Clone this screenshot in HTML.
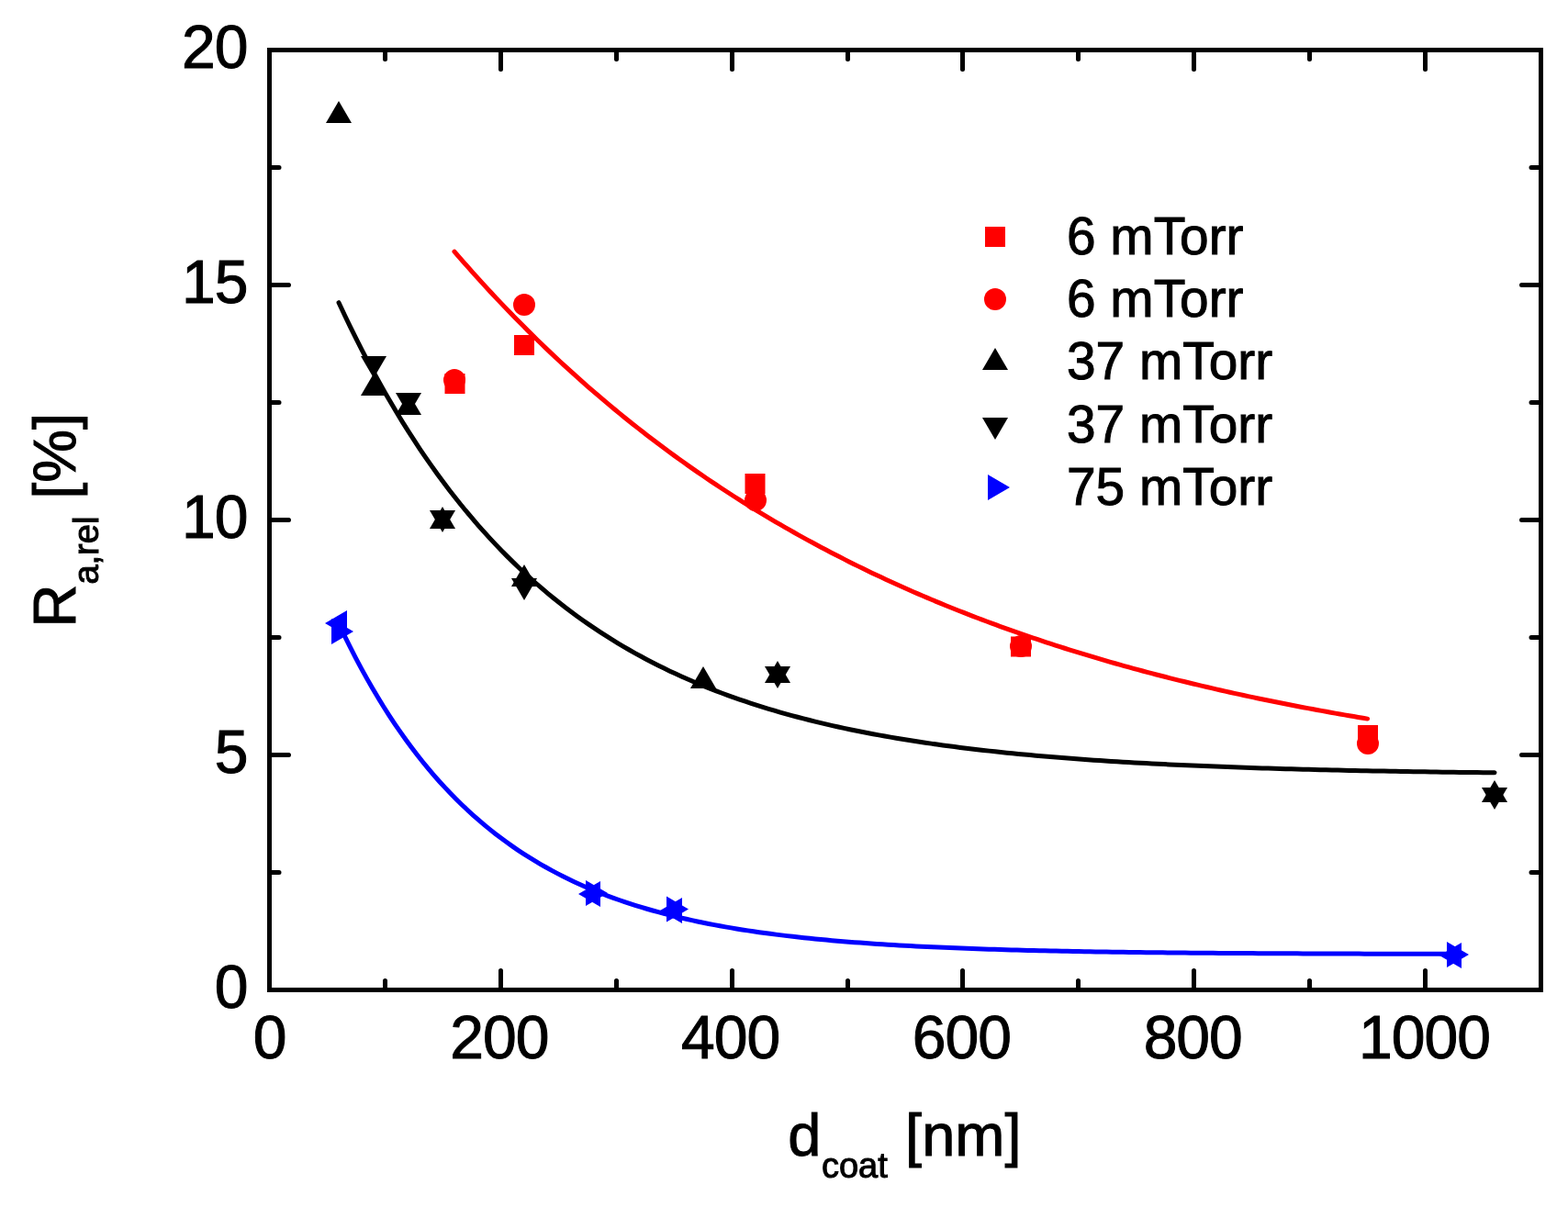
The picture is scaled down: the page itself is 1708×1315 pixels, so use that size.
<!DOCTYPE html>
<html><head><meta charset="utf-8"><title>Plot</title><style>
html,body{margin:0;padding:0;background:#fff;overflow:hidden;}
svg{display:block;}
text{font-family:"Liberation Sans",Arial,sans-serif;fill:#000;}
</style></head><body>
<svg width="1708" height="1315" viewBox="0 0 1708 1315">
<rect width="1708" height="1315" fill="#fff"/>
<g fill="none" stroke-width="5" stroke-linejoin="round" stroke-linecap="round">
<polyline stroke="#ff0000" points="494.94,274.03 499.94,279.82 504.94,285.54 509.93,291.22 514.93,296.83 519.93,302.39 524.93,307.90 529.93,313.35 534.92,318.76 539.92,324.10 544.92,329.40 549.92,334.64 554.92,339.84 559.91,344.98 564.91,350.07 569.91,355.11 574.91,360.11 579.91,365.05 584.90,369.95 589.90,374.80 594.90,379.60 599.90,384.36 604.90,389.07 609.89,393.73 614.89,398.35 619.89,402.92 624.89,407.45 629.89,411.93 634.89,416.37 639.88,420.77 644.88,425.12 649.88,429.43 654.88,433.70 659.88,437.93 664.87,442.12 669.87,446.27 674.87,450.37 679.87,454.44 684.87,458.46 689.86,462.45 694.86,466.40 699.86,470.31 704.86,474.18 709.86,478.01 714.85,481.81 719.85,485.57 724.85,489.29 729.85,492.98 734.85,496.63 739.84,500.25 744.84,503.83 749.84,507.37 754.84,510.88 759.84,514.36 764.83,517.80 769.83,521.21 774.83,524.58 779.83,527.93 784.83,531.24 789.82,534.52 794.82,537.76 799.82,540.98 804.82,544.16 809.82,547.31 814.81,550.43 819.81,553.52 824.81,556.58 829.81,559.62 834.81,562.62 839.80,565.59 844.80,568.53 849.80,571.45 854.80,574.33 859.80,577.19 864.79,580.02 869.79,582.83 874.79,585.60 879.79,588.35 884.79,591.07 889.79,593.77 894.78,596.43 899.78,599.08 904.78,601.69 909.78,604.29 914.78,606.85 919.77,609.39 924.77,611.91 929.77,614.40 934.77,616.87 939.77,619.31 944.76,621.73 949.76,624.13 954.76,626.50 959.76,628.85 964.76,631.18 969.75,633.49 974.75,635.77 979.75,638.03 984.75,640.26 989.75,642.48 994.74,644.67 999.74,646.85 1004.74,649.00 1009.74,651.13 1014.74,653.24 1019.73,655.33 1024.73,657.40 1029.73,659.45 1034.73,661.48 1039.73,663.49 1044.72,665.48 1049.72,667.45 1054.72,669.40 1059.72,671.33 1064.72,673.24 1069.71,675.14 1074.71,677.01 1079.71,678.87 1084.71,680.71 1089.71,682.53 1094.70,684.34 1099.70,686.12 1104.70,687.89 1109.70,689.64 1114.70,691.38 1119.70,693.10 1124.69,694.80 1129.69,696.48 1134.69,698.15 1139.69,699.80 1144.69,701.44 1149.68,703.06 1154.68,704.66 1159.68,706.25 1164.68,707.82 1169.68,709.38 1174.67,710.92 1179.67,712.45 1184.67,713.97 1189.67,715.46 1194.67,716.95 1199.66,718.42 1204.66,719.87 1209.66,721.31 1214.66,722.74 1219.66,724.15 1224.65,725.55 1229.65,726.93 1234.65,728.30 1239.65,729.66 1244.65,731.01 1249.64,732.34 1254.64,733.66 1259.64,734.96 1264.64,736.26 1269.64,737.54 1274.63,738.81 1279.63,740.06 1284.63,741.31 1289.63,742.54 1294.63,743.76 1299.62,744.96 1304.62,746.16 1309.62,747.35 1314.62,748.52 1319.62,749.68 1324.61,750.83 1329.61,751.97 1334.61,753.10 1339.61,754.21 1344.61,755.32 1349.60,756.41 1354.60,757.50 1359.60,758.57 1364.60,759.63 1369.60,760.69 1374.60,761.73 1379.59,762.76 1384.59,763.79 1389.59,764.80 1394.59,765.80 1399.59,766.79 1404.58,767.78 1409.58,768.75 1414.58,769.71 1419.58,770.67 1424.58,771.61 1429.57,772.55 1434.57,773.48 1439.57,774.40 1444.57,775.31 1449.57,776.21 1454.56,777.10 1459.56,777.98 1464.56,778.85 1469.56,779.72 1474.56,780.58 1479.55,781.43 1484.55,782.27 1489.55,783.10"/>
<polyline stroke="#000" points="369.04,329.70 375.37,343.19 381.69,356.32 388.02,369.11 394.35,381.57 400.67,393.70 407.00,405.51 413.33,417.01 419.65,428.21 425.98,439.12 432.31,449.74 438.63,460.08 444.96,470.15 451.29,479.96 457.61,489.51 463.94,498.81 470.27,507.87 476.59,516.69 482.92,525.28 489.25,533.64 495.57,541.79 501.90,549.72 508.23,557.44 514.55,564.96 520.88,572.28 527.21,579.42 533.53,586.36 539.86,593.12 546.19,599.71 552.51,606.12 558.84,612.37 565.17,618.45 571.49,624.37 577.82,630.14 584.15,635.75 590.47,641.22 596.80,646.55 603.13,651.73 609.45,656.78 615.78,661.70 622.11,666.49 628.43,671.15 634.76,675.69 641.09,680.11 647.41,684.42 653.74,688.61 660.07,692.70 666.39,696.67 672.72,700.55 679.05,704.32 685.37,707.99 691.70,711.56 698.02,715.05 704.35,718.44 710.68,721.74 717.00,724.95 723.33,728.09 729.66,731.13 735.98,734.10 742.31,737.00 748.64,739.81 754.96,742.55 761.29,745.22 767.62,747.82 773.94,750.35 780.27,752.82 786.60,755.22 792.92,757.56 799.25,759.84 805.58,762.05 811.90,764.21 818.23,766.31 824.56,768.36 830.88,770.36 837.21,772.30 843.54,774.19 849.86,776.03 856.19,777.82 862.52,779.57 868.84,781.27 875.17,782.92 881.50,784.53 887.82,786.10 894.15,787.63 900.48,789.12 906.80,790.57 913.13,791.98 919.46,793.36 925.78,794.70 932.11,796.00 938.44,797.27 944.76,798.51 951.09,799.71 957.42,800.88 963.74,802.02 970.07,803.14 976.40,804.22 982.72,805.27 989.05,806.30 995.38,807.30 1001.70,808.27 1008.03,809.22 1014.36,810.14 1020.68,811.04 1027.01,811.92 1033.34,812.77 1039.66,813.60 1045.99,814.41 1052.32,815.19 1058.64,815.96 1064.97,816.71 1071.30,817.43 1077.62,818.14 1083.95,818.83 1090.28,819.50 1096.60,820.16 1102.93,820.79 1109.26,821.41 1115.58,822.02 1121.91,822.60 1128.24,823.18 1134.56,823.73 1140.89,824.28 1147.22,824.81 1153.54,825.32 1159.87,825.82 1166.20,826.31 1172.52,826.78 1178.85,827.25 1185.18,827.70 1191.50,828.14 1197.83,828.56 1204.16,828.98 1210.48,829.39 1216.81,829.78 1223.14,830.16 1229.46,830.54 1235.79,830.90 1242.12,831.26 1248.44,831.60 1254.77,831.94 1261.10,832.27 1267.42,832.59 1273.75,832.90 1280.08,833.20 1286.40,833.49 1292.73,833.78 1299.06,834.06 1305.38,834.33 1311.71,834.60 1318.03,834.86 1324.36,835.11 1330.69,835.35 1337.01,835.59 1343.34,835.82 1349.67,836.05 1355.99,836.27 1362.32,836.48 1368.65,836.69 1374.97,836.90 1381.30,837.09 1387.63,837.29 1393.95,837.47 1400.28,837.66 1406.61,837.83 1412.93,838.01 1419.26,838.18 1425.59,838.34 1431.91,838.50 1438.24,838.66 1444.57,838.81 1450.89,838.96 1457.22,839.10 1463.55,839.24 1469.87,839.38 1476.20,839.51 1482.53,839.64 1488.85,839.76 1495.18,839.89 1501.51,840.01 1507.83,840.12 1514.16,840.24 1520.49,840.35 1526.81,840.45 1533.14,840.56 1539.47,840.66 1545.79,840.76 1552.12,840.86 1558.45,840.95 1564.77,841.04 1571.10,841.13 1577.43,841.22 1583.75,841.30 1590.08,841.38 1596.41,841.46 1602.73,841.54 1609.06,841.62 1615.39,841.69 1621.71,841.77 1628.04,841.84"/>
<polyline stroke="#0000ff" points="369.04,679.63 375.15,692.40 381.25,704.72 387.36,716.60 393.46,728.07 399.57,739.12 405.67,749.78 411.78,760.07 417.88,769.98 423.99,779.55 430.09,788.78 436.20,797.68 442.30,806.26 448.41,814.54 454.51,822.53 460.62,830.23 466.72,837.66 472.83,844.83 478.93,851.74 485.04,858.41 491.14,864.84 497.25,871.04 503.35,877.02 509.46,882.79 515.56,888.35 521.67,893.72 527.78,898.90 533.88,903.89 539.99,908.71 546.09,913.35 552.20,917.83 558.30,922.15 564.41,926.32 570.51,930.34 576.62,934.22 582.72,937.96 588.83,941.56 594.93,945.04 601.04,948.40 607.14,951.64 613.25,954.76 619.35,957.77 625.46,960.67 631.56,963.47 637.67,966.18 643.77,968.78 649.88,971.30 655.98,973.72 662.09,976.06 668.19,978.31 674.30,980.49 680.41,982.59 686.51,984.61 692.62,986.56 698.72,988.44 704.83,990.26 710.93,992.01 717.04,993.70 723.14,995.33 729.25,996.90 735.35,998.42 741.46,999.88 747.56,1001.29 753.67,1002.65 759.77,1003.96 765.88,1005.23 771.98,1006.45 778.09,1007.62 784.19,1008.76 790.30,1009.85 796.40,1010.91 802.51,1011.93 808.61,1012.91 814.72,1013.86 820.82,1014.77 826.93,1015.66 833.04,1016.51 839.14,1017.33 845.25,1018.12 851.35,1018.88 857.46,1019.62 863.56,1020.33 869.67,1021.01 875.77,1021.67 881.88,1022.31 887.98,1022.92 894.09,1023.51 900.19,1024.09 906.30,1024.64 912.40,1025.17 918.51,1025.68 924.61,1026.18 930.72,1026.65 936.82,1027.11 942.93,1027.56 949.03,1027.99 955.14,1028.40 961.24,1028.80 967.35,1029.18 973.45,1029.55 979.56,1029.91 985.67,1030.25 991.77,1030.59 997.88,1030.91 1003.98,1031.22 1010.09,1031.51 1016.19,1031.80 1022.30,1032.08 1028.40,1032.35 1034.51,1032.60 1040.61,1032.85 1046.72,1033.09 1052.82,1033.33 1058.93,1033.55 1065.03,1033.76 1071.14,1033.97 1077.24,1034.17 1083.35,1034.37 1089.45,1034.55 1095.56,1034.73 1101.66,1034.91 1107.77,1035.07 1113.87,1035.23 1119.98,1035.39 1126.08,1035.54 1132.19,1035.68 1138.30,1035.82 1144.40,1035.96 1150.51,1036.09 1156.61,1036.21 1162.72,1036.34 1168.82,1036.45 1174.93,1036.56 1181.03,1036.67 1187.14,1036.78 1193.24,1036.88 1199.35,1036.98 1205.45,1037.07 1211.56,1037.16 1217.66,1037.25 1223.77,1037.33 1229.87,1037.41 1235.98,1037.49 1242.08,1037.57 1248.19,1037.64 1254.29,1037.71 1260.40,1037.78 1266.50,1037.84 1272.61,1037.91 1278.71,1037.97 1284.82,1038.03 1290.93,1038.08 1297.03,1038.14 1303.14,1038.19 1309.24,1038.24 1315.35,1038.29 1321.45,1038.34 1327.56,1038.38 1333.66,1038.43 1339.77,1038.47 1345.87,1038.51 1351.98,1038.55 1358.08,1038.59 1364.19,1038.62 1370.29,1038.66 1376.40,1038.69 1382.50,1038.73 1388.61,1038.76 1394.71,1038.79 1400.82,1038.82 1406.92,1038.85 1413.03,1038.87 1419.13,1038.90 1425.24,1038.93 1431.34,1038.95 1437.45,1038.97 1443.56,1039.00 1449.66,1039.02 1455.77,1039.04 1461.87,1039.06 1467.98,1039.08 1474.08,1039.10 1480.19,1039.12 1486.29,1039.14 1492.40,1039.15 1498.50,1039.17 1504.61,1039.19 1510.71,1039.20 1516.82,1039.22 1522.92,1039.23 1529.03,1039.25 1535.13,1039.26 1541.24,1039.27 1547.34,1039.28 1553.45,1039.30 1559.55,1039.31 1565.66,1039.32 1571.76,1039.33 1577.87,1039.34 1583.97,1039.35"/>
</g>
<g fill="#000"><polygon points="369,110 355,134 383,134"/><polygon points="407,407 393,431 421,431"/><polygon points="445,428 431,452 459,452"/><polygon points="482,552 468,576 496,576"/><polygon points="571,615 557,639 585,639"/><polygon points="766,726 752,750 780,750"/><polygon points="847,720 833,744 861,744"/><polygon points="1628,850 1614,874 1642,874"/><polygon points="407,412 393,388 421,388"/><polygon points="445,452 431,428 459,428"/><polygon points="482,580 468,556 496,556"/><polygon points="571,654 557,630 585,630"/><polygon points="847,750 833,726 861,726"/><polygon points="1628,882 1614,858 1642,858"/></g>
<g fill="#ff0000"><rect x="484.5" y="407" width="22" height="22"/><rect x="560" y="365" width="22" height="22"/><rect x="811.5" y="516" width="22" height="22"/><rect x="1101" y="693.5" width="22" height="22"/><rect x="1479" y="790" width="22" height="22"/><circle cx="495" cy="414" r="12"/><circle cx="571" cy="332" r="12"/><circle cx="823" cy="545" r="12"/><circle cx="1112" cy="704" r="12"/><circle cx="1490" cy="810" r="12"/></g>
<g fill="#0000ff"><polygon points="385,688 361,674 361,702"/><polygon points="662,973 638,959 638,987"/><polygon points="750,990.5 726,976.5 726,1004.5"/><polygon points="1600,1040 1576,1026 1576,1054"/><polygon points="354,679 378,665 378,693"/><polygon points="630,974 654,960 654,988"/><polygon points="719,992 743,978 743,1006"/><polygon points="1568,1041 1592,1027 1592,1055"/></g>
<path d="M293.5,1078.5V1057.5M293.5,54.5V75.5M545.5,1078.5V1057.5M545.5,54.5V75.5M797.5,1078.5V1057.5M797.5,54.5V75.5M1048.5,1078.5V1057.5M1048.5,54.5V75.5M1300.5,1078.5V1057.5M1300.5,54.5V75.5M1552.5,1078.5V1057.5M1552.5,54.5V75.5M419.5,1078.5V1068.5M419.5,54.5V64.5M671.5,1078.5V1068.5M671.5,54.5V64.5M923.5,1078.5V1068.5M923.5,54.5V64.5M1174.5,1078.5V1068.5M1174.5,54.5V64.5M1426.5,1078.5V1068.5M1426.5,54.5V64.5M293.5,1078.5H314.5M1678.5,1078.5H1657.5M293.5,822.5H314.5M1678.5,822.5H1657.5M293.5,566.5H314.5M1678.5,566.5H1657.5M293.5,310.5H314.5M1678.5,310.5H1657.5M293.5,54.5H314.5M1678.5,54.5H1657.5M293.5,950.5H304M1678.5,950.5H1668M293.5,694.5H304M1678.5,694.5H1668M293.5,438.5H304M1678.5,438.5H1668M293.5,182.5H304M1678.5,182.5H1668" stroke="#000" stroke-width="5" stroke-linecap="round" fill="none"/>
<rect x="293.5" y="54.5" width="1385" height="1024" fill="none" stroke="#000" stroke-width="5"/>
<g font-size="66" stroke="#000" stroke-width="1" letter-spacing="-1"><text x="293.5" y="1153" text-anchor="middle">0</text><text x="543.8" y="1153" text-anchor="middle">200</text><text x="795.6" y="1153" text-anchor="middle">400</text><text x="1047.4" y="1153" text-anchor="middle">600</text><text x="1299.2" y="1153" text-anchor="middle">800</text><text x="1551.5" y="1153" text-anchor="middle">1000</text><text x="269.5" y="1098.0" text-anchor="end">0</text><text x="269.5" y="842.0" text-anchor="end">5</text><text x="269.5" y="586.0" text-anchor="end">10</text><text x="269.5" y="330.0" text-anchor="end">15</text><text x="269.5" y="74.0" text-anchor="end">20</text></g>
<g stroke="#000" stroke-width="1">
<text x="858.3" y="1258.5" font-size="65">d</text>
<text x="894.9" y="1283" font-size="38">coat</text>
<text x="986.1" y="1258.5" font-size="65">[nm]</text>
<g transform="translate(82,0) rotate(-90)">
<text x="-683.4" y="0" font-size="65">R</text>
<text x="-636.6" y="25" font-size="38">a,rel</text>
<text x="-543.8" y="0" font-size="65">[%]</text>
</g>
</g>
<g fill="#ff0000"><rect x="1073" y="247" width="22" height="22"/><circle cx="1084" cy="326" r="12"/></g>
<g fill="#000"><polygon points="1084,379 1070,403 1098,403"/><polygon points="1084,479 1070,455 1098,455"/></g>
<g fill="#0000ff"><polygon points="1100,531 1076,517 1076,545"/></g>
<g font-size="56.8" stroke="#000" stroke-width="1">
<text x="1162" y="277.1">6 mTorr</text>
<text x="1162" y="345.1">6 mTorr</text>
<text x="1162" y="413.2">37 mTorr</text>
<text x="1162" y="482">37 mTorr</text>
<text x="1162" y="550.1">75 mTorr</text>
</g>
</svg>
</body></html>
